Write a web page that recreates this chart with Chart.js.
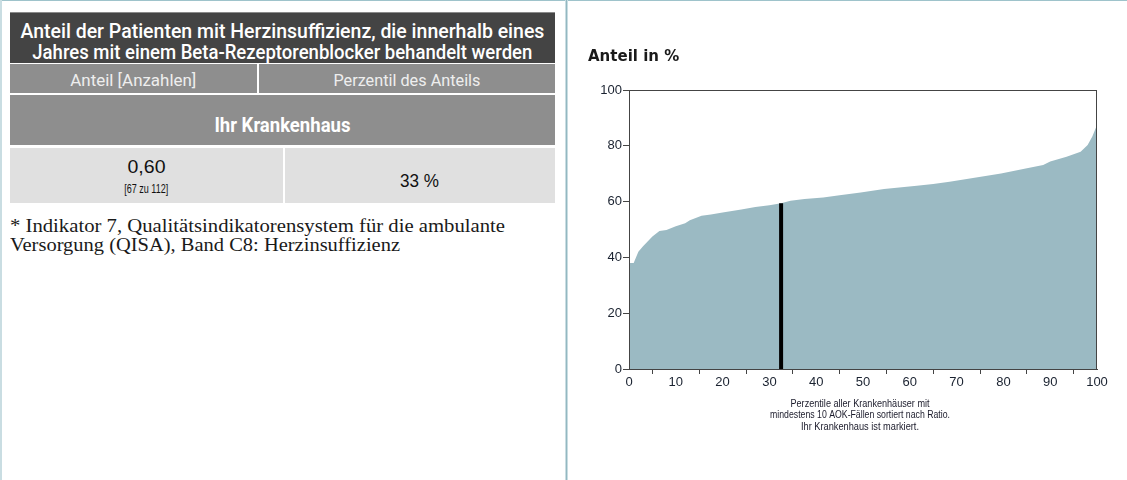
<!DOCTYPE html>
<html lang="de">
<head>
<meta charset="utf-8">
<script src="https://cdn.jsdelivr.net/npm/chart.js@4.4.1/dist/chart.umd.min.js"></script>
<style>
  html, body { margin: 0; padding: 0; background: #fff; }
  body { width: 1127px; height: 480px; position: relative; overflow: hidden; }
  .frame-top { position: absolute; left: 0; top: 0; width: 1127px; height: 1px; background: #9ec3cb; }
  .frame-left { position: absolute; left: 0; top: 0; width: 2px; height: 480px; background: #c9dde2; }
  .divider { position: absolute; left: 565px; top: 0; width: 1px; height: 480px; background: #93b8c1;
             border-left: 1px solid #c9dde2; border-right: 1px solid #c9dde2; }
  .box { position: absolute; left: 10px; width: 545px; box-sizing: border-box; }
  .title { top: 12px; height: 51px; background: #444; color: #fff; border-top: 1px solid #8a8a8a;
           font-family: Roboto, "Liberation Sans", sans-serif; font-size: 21px; line-height: 21px; font-weight: 500; }
  .ctr { display: flex; justify-content: center; align-items: center; white-space: nowrap; }
  .title .ln { position: absolute; left: 0; width: 545px; height: 21px; }
  .hdr { top: 64px; height: 29px; background: #8e8e8e; color: #eee;
         font-family: Roboto, "Liberation Sans", sans-serif; font-size: 17px; }
  .cell { position: absolute; top: 0; height: 100%; }
  .ihr { top: 95px; height: 50px; background: #8e8e8e; color: #fff;
         font-family: Roboto, "Liberation Sans", sans-serif; font-size: 20px; font-weight: bold; }
  .val { top: 148px; height: 55px; background: #e0e0e0; color: #111;
         font-family: "Liberation Sans", Arial, sans-serif; }
  .vline { position: absolute; top: 0; width: 2px; height: 100%; background: #fff; }
  .fit { display: inline-block; white-space: nowrap; flex: none; }
  .foot { position: absolute; left: 10px; top: 217px; font-family: "Liberation Serif", "Times New Roman", serif;
          font-size: 18px; line-height: 19px; color: #1a1a1a; }
  .foot div { white-space: nowrap; }
  #chartWrap { position: absolute; left: 568px; top: 0; width: 559px; height: 480px; }
</style>
</head>
<body>
<div class="frame-top"></div>
<div class="frame-left"></div>
<div class="divider"></div>

<div class="box title">
  <div class="ln ctr" style="top:8px"><span class="fit" data-w="524">Anteil der Patienten mit Herzinsuffizienz, die innerhalb eines</span></div>
  <div class="ln ctr" style="top:29px"><span class="fit" data-w="500">Jahres mit einem Beta-Rezeptorenblocker behandelt werden</span></div>
</div>

<div class="box hdr">
  <div class="cell ctr" style="left:0;width:247px;padding-top:3px;box-sizing:border-box"><span class="fit" data-w="126">Anteil [Anzahlen]</span></div>
  <div class="vline" style="left:247px"></div>
  <div class="cell ctr" style="left:249px;width:296px;padding-top:3px;box-sizing:border-box"><span class="fit" data-w="147">Perzentil des Anteils</span></div>
</div>

<div class="box ihr">
  <div class="cell ctr" style="left:0;width:545px;padding-top:9px;box-sizing:border-box"><span class="fit" data-w="136">Ihr Krankenhaus</span></div>
</div>

<div class="box val">
  <div class="cell" style="left:0;width:273px;">
    <div class="ctr" style="position:absolute;left:0;width:273px;top:8px;height:21px;font-size:19px;line-height:21px"><span class="fit" data-w="38">0,60</span></div>
    <div class="ctr" style="position:absolute;left:0;width:273px;top:35px;height:13px;font-size:12px;line-height:13px"><span class="fit" data-w="44">[67 zu 112]</span></div>
  </div>
  <div class="vline" style="left:273px"></div>
  <div class="cell" style="left:275px;width:270px;">
    <div class="ctr" style="position:absolute;left:0;width:270px;top:23px;height:20px;font-size:18px;line-height:20px"><span class="fit" data-w="39">33 %</span></div>
  </div>
</div>

<div class="foot">
  <div><span class="fit fl" data-w="495">* Indikator 7, Qualitätsindikatorensystem für die ambulante</span></div>
  <div><span class="fit fl" data-w="390">Versorgung (QISA), Band C8: Herzinsuffizienz</span></div>
</div>

<div id="chartWrap"><canvas id="c" width="559" height="480"></canvas></div>

<script>
// ---- Data ----
const percentiles = [0, 1, 2, 3, 5, 6.5, 8, 10, 12, 13, 15.5, 17.5, 20, 24, 27, 30, 32.5, 34.5, 37.5, 41.5, 45, 49.5, 54.5, 61.5, 65, 68.5, 74.5, 79.5, 84.5, 88.5, 90, 93.5, 96.5, 98, 99, 100];
const shares      = [38.0, 38.0, 42.0, 44.0, 47.5, 49.5, 49.8, 51.2, 52.2, 53.3, 54.9, 55.4, 56.1, 57.2, 58.1, 58.7, 59.4, 60.3, 60.9, 61.5, 62.3, 63.3, 64.5, 65.7, 66.3, 67.1, 68.7, 70.1, 71.8, 73.1, 74.4, 76.1, 77.9, 80.3, 83.3, 87.5];
const hospitalPercentile = 32.5;
const hospitalShare = 59.4;
const yTicks = [0, 20, 40, 60, 80, 100];
const xLabelTicks = [0, 10, 20, 30, 40, 50, 60, 70, 80, 90, 100];
const captionLines = ["Perzentile aller Krankenhäuser mit", "mindestens 10 AOK-Fällen sortiert nach Ratio.", "Ihr Krankenhaus ist markiert."];
const captionWidths = [139, 180, 118];

// ---- fit HTML text to measured widths ----
document.querySelectorAll('.fit').forEach(el => {
  const target = +el.dataset.w;
  const w = el.getBoundingClientRect().width;
  if (w > 0) {
    el.style.transform = 'scaleX(' + (target / w) + ')';
    el.style.transformOrigin = el.classList.contains('fl') ? 'left center' : 'center center';
  }
});

const curve = percentiles.map((p, i) => ({ x: p, y: shares[i] }));
const marker = [{ x: hospitalPercentile, y: 0 }, { x: hospitalPercentile, y: hospitalShare }];

const frameAndCaption = {
  id: 'frameAndCaption',
  afterDatasetsDraw(chart) {
    const { ctx, chartArea: a } = chart;
    ctx.save();
    ctx.strokeStyle = '#444';
    ctx.lineWidth = 1;
    ctx.strokeRect(Math.round(a.left) + 0.5, Math.round(a.top) + 0.5, Math.round(a.right - a.left) - 1, Math.round(a.bottom - a.top));
    ctx.restore();
  },
  afterDraw(chart) {
    const { ctx, chartArea: a } = chart;
    const cx = (a.left + a.right) / 2 - 3;
    const offs = [35, 46.5, 58];
    ctx.save();
    ctx.fillStyle = '#1a1a2a';
    ctx.font = '10.5px "Liberation Sans", Arial, sans-serif';
    ctx.textAlign = 'center';
    ctx.textBaseline = 'middle';
    captionLines.forEach((t, i) => {
      const w = ctx.measureText(t).width;
      ctx.save();
      ctx.translate(cx, a.bottom + offs[i]);
      ctx.scale(captionWidths[i] / w, 1);
      ctx.fillText(t, 0, 0);
      ctx.restore();
    });
    ctx.restore();
  }
};

new Chart(document.getElementById('c'), {
  type: 'line',
  data: {
    datasets: [
      {
        label: 'Marker',
        data: marker,
        borderColor: '#000',
        borderWidth: 4,
        borderCapStyle: 'butt',
        pointRadius: 0,
        fill: false,
        order: 0
      },
      {
        label: 'Anteil',
        data: curve,
        borderWidth: 0,
        borderColor: 'rgba(0,0,0,0)',
        backgroundColor: '#9bbac3',
        pointRadius: 0,
        fill: 'origin',
        tension: 0,
        order: 1
      }
    ]
  },
  options: {
    responsive: false,
    animation: false,
    devicePixelRatio: 1,
    layout: { padding: { left: 20, right: 30, top: 0, bottom: 0 } },
    plugins: {
      legend: { display: false },
      tooltip: { enabled: false },
      title: {
        display: true,
        text: 'Anteil in %',
        align: 'start',
        color: '#1a1a1a',
        font: { family: '"DejaVu Sans", sans-serif', size: 15, weight: 'bold', lineHeight: 1.2 },
        padding: { top: 48, bottom: 24 }
      }
    },
    scales: {
      x: {
        type: 'linear',
        min: 0,
        max: 100,
        afterFit(scale) { scale.height = 111; },
        afterBuildTicks(scale) {
          const t = [];
          for (let v = 0; v <= 100; v += 5) t.push({ value: v });
          scale.ticks = t;
        },
        ticks: {
          autoSkip: false,
          maxRotation: 0,
          padding: 1,
          color: '#1a2230',
          font: { family: '"Liberation Sans", Arial, sans-serif', size: 13 },
          callback: v => xLabelTicks.includes(v) ? String(v) : ''
        },
        grid: {
          drawOnChartArea: false,
          drawTicks: true,
          tickLength: 5,
          color: c => (c.tick && xLabelTicks.includes(c.tick.value)) ? 'rgba(0,0,0,0)' : '#444'
        },
        border: { display: true, color: '#444', width: 1 }
      },
      y: {
        min: 0,
        max: 100,
        afterFit(scale) { scale.width = 41; },
        afterBuildTicks(scale) { scale.ticks = yTicks.map(v => ({ value: v })); },
        ticks: {
          padding: 1,
          color: '#1a2230',
          font: { family: '"Liberation Sans", Arial, sans-serif', size: 13 }
        },
        grid: { drawOnChartArea: false, drawTicks: true, tickLength: 6, color: '#444' },
        border: { display: true, color: '#444', width: 1 }
      }
    }
  },
  plugins: [frameAndCaption]
});
</script>
</body>
</html>
